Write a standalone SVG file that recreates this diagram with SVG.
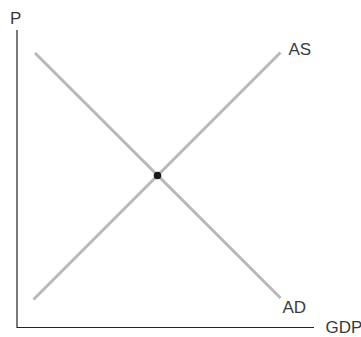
<svg xmlns="http://www.w3.org/2000/svg" width="361" height="337" viewBox="0 0 361 337">
<style>
.lbl{font-family:"Liberation Sans",Arial,sans-serif;font-size:17px;fill:#3a3a3a;}
.curve{stroke:#b8b8b8;stroke-width:3;fill:none;}
.axis{stroke:#222;stroke-width:1.2;fill:none;}
</style>
<rect width="361" height="337" fill="#fff"/>
<g id="axes">
<path class="axis" d="M17 30 V327.5 H314"/>
<text class="lbl" x="10" y="23.5">P</text>
<text class="lbl" x="325.5" y="333">GDP</text>
</g>
<g id="connectors">
<line id="AD-line" class="curve" x1="35" y1="53" x2="280.5" y2="298"/>
<line id="AS-line" class="curve" x1="33.5" y1="299.5" x2="280.5" y2="52.5"/>
</g>
<g id="AS"><text class="lbl" x="288.5" y="55">AS</text></g>
<g id="AD"><text class="lbl" x="282.5" y="313">AD</text></g>
<g id="equilibrium"><circle cx="157.5" cy="175.5" r="3.8" fill="#1a1a1a"/></g>
</svg>
